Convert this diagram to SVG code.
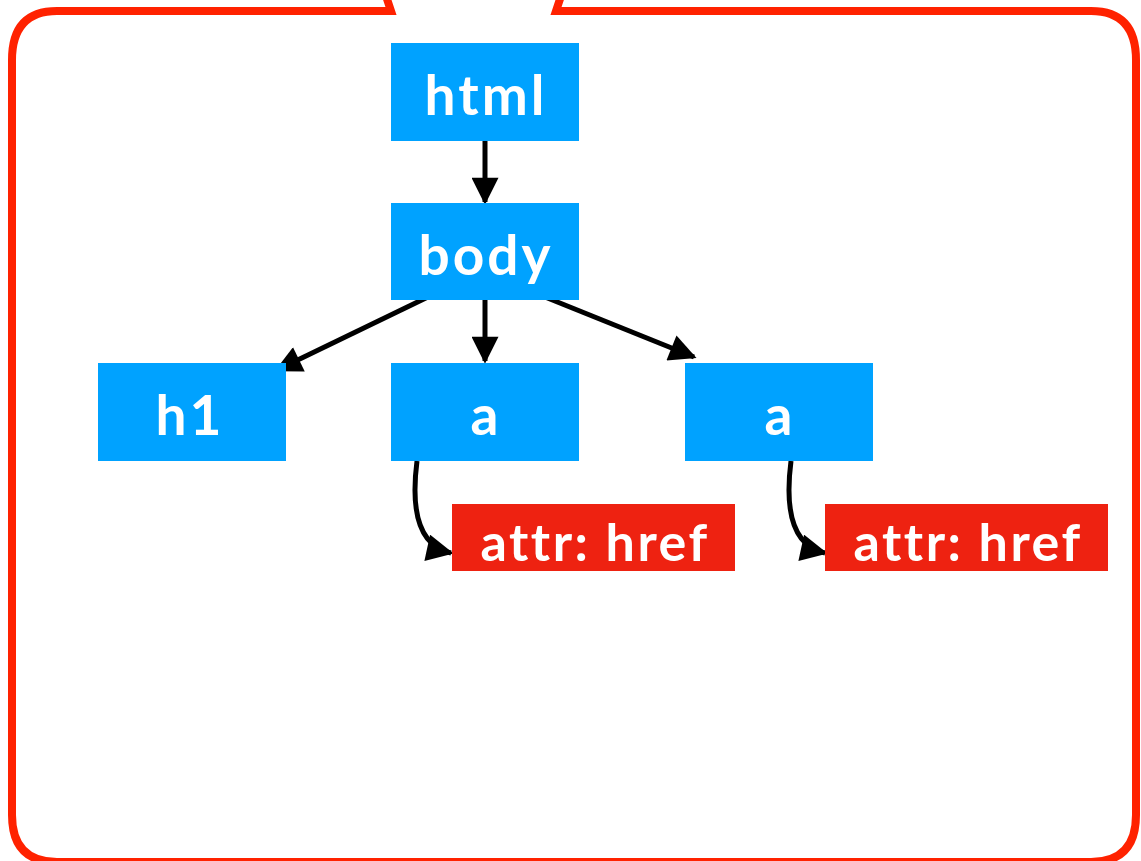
<svg xmlns="http://www.w3.org/2000/svg" width="1141" height="861" viewBox="0 0 1141 861">
<style>
.box{fill:#00A2FF}
.attr{fill:#EE2211}
.t{font-family:Lato,"Open Sans","Liberation Sans",sans-serif;font-weight:bold;fill:#fff;text-anchor:middle;font-variant-ligatures:none}
.b{font-size:55px;letter-spacing:3px}
.r{font-size:52px;letter-spacing:2.5px}
.c{stroke:#000;stroke-width:5;fill:none;marker-end:url(#ah)}
</style>
<defs>
<marker id="ah" viewBox="0 0 10 10" refX="9" refY="5" markerWidth="5.6" markerHeight="5.4" orient="auto" markerUnits="strokeWidth">
<path d="M0,0 L10,5 L0,10 z" fill="#000"/>
</marker>
</defs>
<rect width="1141" height="861" fill="#fff"/>
<path id="frame" d="M386,-4 L391,11 L57,11 Q12,11 12,60 L12,815 Q12,862 57,862 L1091,862 Q1136,862 1136,815 L1136,60 Q1136,11 1091,11 L556,11 L561,-4" fill="none" stroke="#FF2200" stroke-width="8"/>
<g id="connectors">
<path class="c" d="M485,141 L485,202"/>
<path class="c" d="M430,296 L277,370"/>
<path class="c" d="M485,297 L485,361"/>
<path class="c" d="M540,295 L694,357"/>
<path class="c" d="M417,461 C412,500 414,545 451,553"/>
<path class="c" d="M791,461 C786,500 788,545 825,553"/>
</g>
<g id="html"><rect class="box" x="391" y="43" width="188" height="98"/><text class="t b" x="486" y="115">html</text></g>
<g id="body"><rect class="box" x="391" y="203" width="188" height="97"/><text class="t b" x="486" y="275">body</text></g>
<g id="h1"><rect class="box" x="98" y="363" width="188" height="98"/><text class="t b" x="190" y="435">h1</text></g>
<g id="a1"><rect class="box" x="391" y="363" width="188" height="98"/><text class="t b" x="486" y="435">a</text></g>
<g id="a2"><rect class="box" x="685" y="363" width="188" height="98"/><text class="t b" x="780" y="435">a</text></g>
<g id="attr1"><rect class="attr" x="452" y="504" width="283" height="67"/><text class="t r" x="595" y="561">attr: href</text></g>
<g id="attr2"><rect class="attr" x="825" y="504" width="283" height="67"/><text class="t r" x="968" y="561">attr: href</text></g>
</svg>
